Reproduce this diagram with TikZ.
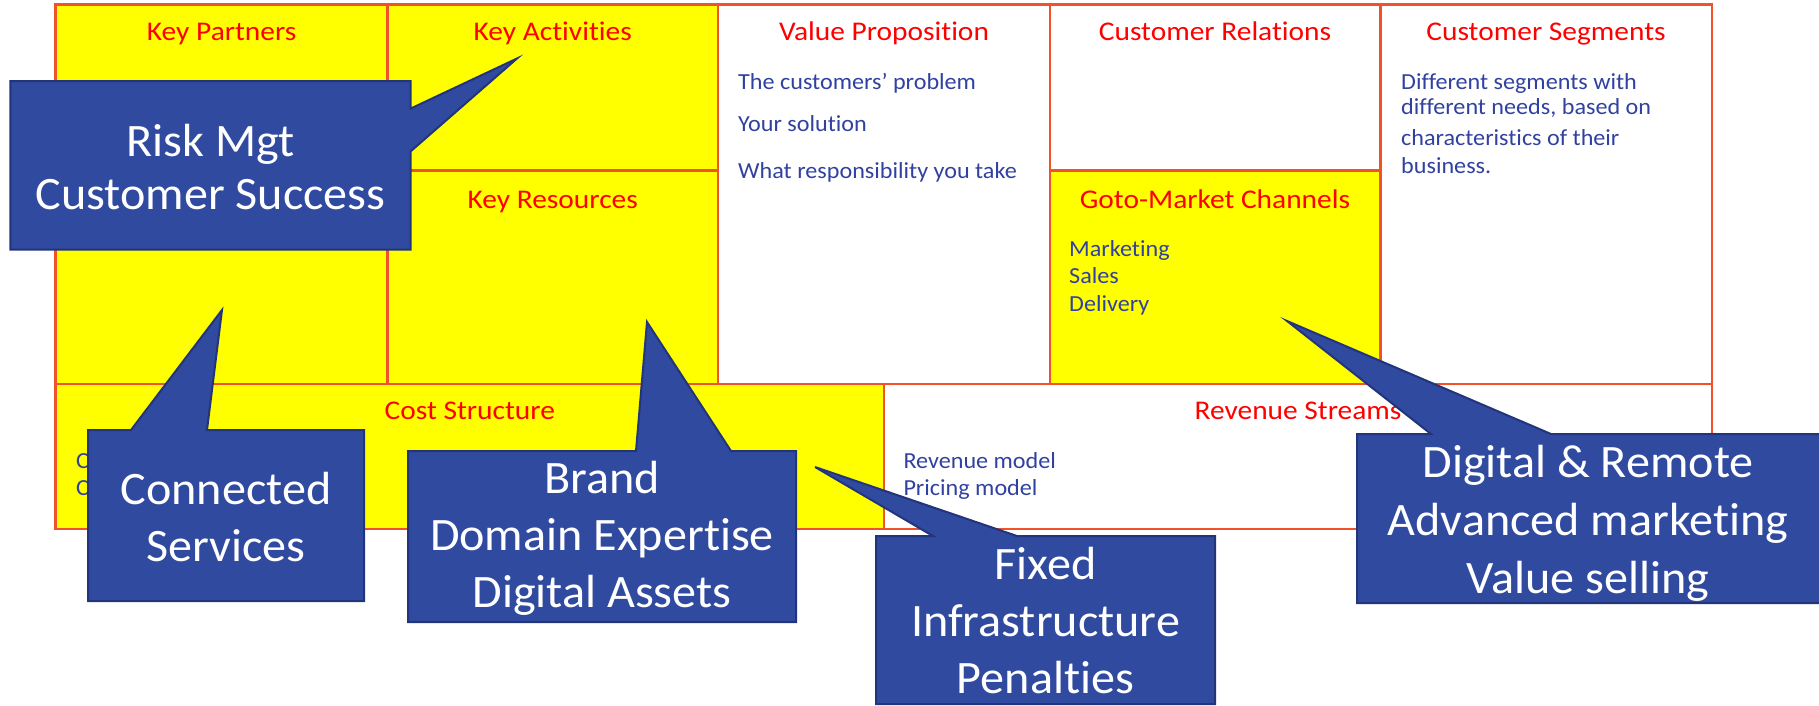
\documentclass[tikz,border=0pt]{standalone}
\usepackage{fontspec}
\setmainfont{Carlito}[Ligatures=NoCommon]
\newfontfamily\headfont{Carlito}[Ligatures=NoCommon, FakeStretch=1.09]
\newfontfamily\bodyfont{Carlito}[Ligatures=NoCommon, FakeStretch=1.05]
\newfontfamily\callfont{Carlito}[Ligatures=NoCommon, FakeStretch=1.035]
\definecolor{gridred}{HTML}{F2522A}
\definecolor{cellyellow}{HTML}{FFFF00}
\definecolor{headred}{HTML}{FF0000}
\definecolor{bodyblue}{HTML}{3041A0}
\definecolor{callfill}{HTML}{304A9F}
\definecolor{calledge}{HTML}{22347A}
\begin{document}
\begin{tikzpicture}[x=1pt,y=-1pt,
  cellline/.style={draw=gridred, line width=2.5pt},
  header/.style={text=headred, font=\headfont\fontsize{27}{32}\selectfont, inner sep=0pt, anchor=base},
  body/.style={text=bodyblue, font=\bodyfont\fontsize{23}{28}\selectfont, inner sep=0pt, anchor=base west},
  callout/.style={fill=callfill, draw=calledge, line width=2pt, line join=miter},
  calltext/.style={text=white, font=\callfont\fontsize{46.5}{57}\selectfont, align=center, inner sep=0pt}
]
\useasboundingbox (0,0) rectangle (1819,705);

% canvas cells
\fill[cellyellow] (55.7,4.6) rectangle (718,384);
\fill[cellyellow] (1050,170.5) rectangle (1380.5,384);
\fill[cellyellow] (55.7,384) rectangle (884,529);

\draw[cellline] (55.7,4.6) rectangle (1712,529);
\draw[cellline] (387.5,4.6) -- (387.5,384);
\draw[cellline] (718,4.6) -- (718,384);
\draw[cellline] (1050,4.6) -- (1050,384);
\draw[cellline] (1380.5,4.6) -- (1380.5,384);
\draw[cellline] (55.7,384) -- (1712,384);
\draw[cellline] (387.5,170.5) -- (718,170.5);
\draw[cellline] (1050,170.5) -- (1380.5,170.5);
\draw[cellline] (884,384) -- (884,529);

% cell headings
\node[header] (kp) at (221.6,40.5) {Key Partners};
\node[header] (ka) at (552.7,40.5) {Key Activities};
\node[header] (vp) at (884,40.5) {Value Proposition};
\node[header] (cr) at (1215,40.5) {Customer Relations};
\node[header] (cs) at (1546,40.5) {Customer Segments};
\node[header] (kr) at (552.7,208) {Key Resources};
\node[header] (gm) at (1215,208) {Goto-Market Channels};
\node[header] (cost) at (469.8,419) {Cost Structure};
\node[header] (rev) at (1298,419) {Revenue Streams};

% cell contents
\node[body] (vp1) at (738,89.3) {The customers’ problem};
\node[body] (vp2) at (738,131) {Your solution};
\node[body] (vp3) at (738,178.3) {What responsibility you take};

\node[body] (cs1) at (1401,89) {Different segments with};
\node[body] (cs2) at (1401,114.5) {different needs, based on};
\node[body] (cs3) at (1401,145) {characteristics of their};
\node[body] (cs4) at (1401,173) {business.};

\node[body] (gm1) at (1069,256.5) {Marketing};
\node[body] (gm2) at (1069,283) {Sales};
\node[body] (gm3) at (1069,311.5) {Delivery};

\node[body] (rv1) at (903.3,468.3) {Revenue model};
\node[body] (rv2) at (903.3,495) {Pricing model};

\node[body] (co1) at (76,468.3) {Cost model};
\node[body] (co2) at (76,495) {Cost drivers};

% callouts
\draw[callout] (10.4,81) -- (410.6,81) -- (410.6,108.6) -- (517,58.5)
  -- (410.6,151.4) -- (410.6,249.5) -- (10.4,249.5) -- cycle;
\node[calltext, font=\callfont\fontsize{46.5}{53}\selectfont] (risk) at (210.5,167) {Risk Mgt\\Customer Success};

\draw[callout] (88,430) -- (131,430) -- (222,310) -- (207,430)
  -- (364,430) -- (364,601) -- (88,601) -- cycle;
\node[calltext] (conn) at (226,517) {Connected\\Services};

\draw[callout] (408,451) -- (636,451) -- (647,322) -- (731,451)
  -- (796,451) -- (796,622) -- (408,622) -- cycle;
\node[calltext] (brand) at (602,538) {Brand\\Domain Expertise\\Digital Assets};

\draw[callout] (876,536) -- (933,536) -- (815,467) -- (1017,536)
  -- (1215,536) -- (1215,704) -- (876,704) -- cycle;
\node[calltext] (fixed) at (1045.5,621) {Fixed\\Infrastructure\\Penalties};

\draw[callout] (1357,434) -- (1431,434) -- (1287,321) -- (1551,434)
  -- (1824,434) -- (1824,603) -- (1357,603) -- cycle;
\node[calltext, font=\callfont\fontsize{46.5}{58}\selectfont] (digital) at (1588,523) {Digital \& Remote\\Advanced marketing\\Value selling};

\end{tikzpicture}
\end{document}
